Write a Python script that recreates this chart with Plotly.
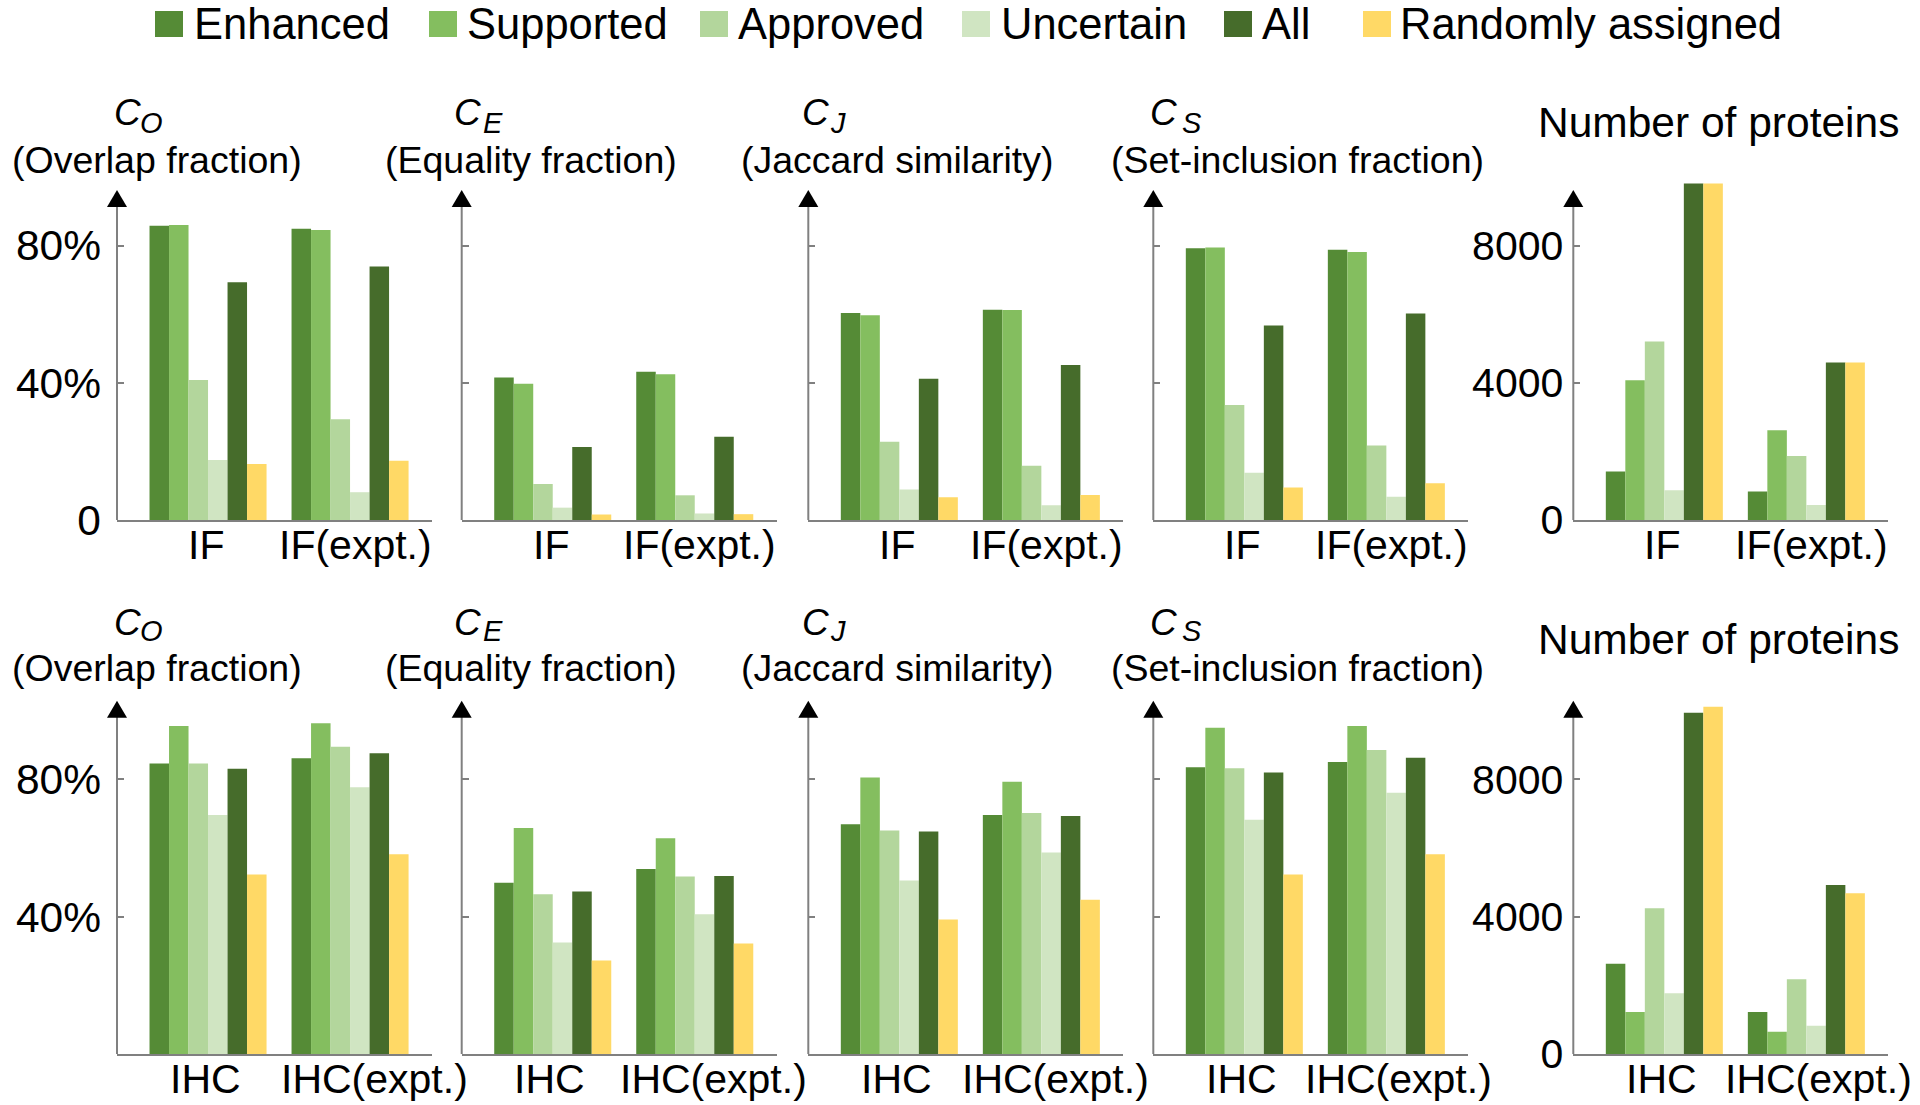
import plotly.graph_objects as go

W, H = 1920, 1105

series_names = ["Enhanced", "Supported", "Approved", "Uncertain", "All", "Randomly assigned"]
series_colors = ["#558B36", "#84BE5F", "#B3D69C", "#D0E5C2", "#466C2B", "#FFD966"]

cats_if = ["IF", "IF(expt.)"]
cats_ihc = ["IHC", "IHC(expt.)"]

# rows follow series_names, columns follow the categories
co_if = [[85.8, 84.9], [86.0, 84.5], [40.8, 29.4], [17.5, 8.1], [69.3, 73.9], [16.3, 17.3]]
ce_if = [[41.5, 43.2], [39.7, 42.5], [10.5, 7.2], [3.6, 1.9], [21.3, 24.3], [1.6, 1.7]]
cj_if = [[60.3, 61.3], [59.7, 61.2], [22.8, 15.8], [8.9, 4.3], [41.2, 45.2], [6.6, 7.3]]
cs_if = [[79.2, 78.8], [79.4, 78.1], [33.5, 21.7], [13.8, 6.8], [56.7, 60.2], [9.5, 10.7]]
n_if = [[1413, 829], [4078, 2619], [5209, 1869], [867, 438], [9822, 4596], [9822, 4596]]

co_ihc = [[84.6, 86.1], [95.5, 96.3], [84.6, 89.5], [69.6, 77.7], [83.1, 87.6], [52.3, 58.2]]
ce_ihc = [[49.9, 53.9], [65.8, 62.8], [46.5, 51.7], [32.5, 40.7], [47.3, 51.8], [27.2, 32.2]]
cj_ihc = [[66.9, 69.6], [80.5, 79.3], [65.1, 70.2], [50.5, 58.7], [64.8, 69.3], [39.2, 44.9]]
cs_ihc = [[83.5, 85.0], [95.0, 95.5], [83.2, 88.5], [68.2, 76.1], [82.0, 86.3], [52.3, 58.2]]
n_ihc = [[2631, 1224], [1224, 650], [4245, 2176], [1768, 825], [9943, 4924], [10118, 4682]]

metric_letters = ["O", "E", "J", "S"]
metric_names = ["(Overlap fraction)", "(Equality fraction)", "(Jaccard similarity)", "(Set-inclusion fraction)"]
count_title = "Number of proteins"

pct_ticks_top = [0, 40, 80]
pct_text_top = ["0", "40%", "80%"]
pct_ticks_bottom = [40, 80]
pct_text_bottom = ["40%", "80%"]
num_ticks = [0, 4000, 8000]
num_text = ["0", "4000", "8000"]

panels = [
    (co_if, cats_if, "pct"), (ce_if, cats_if, "pct"), (cj_if, cats_if, "pct"),
    (cs_if, cats_if, "pct"), (n_if, cats_if, "num"),
    (co_ihc, cats_ihc, "pct"), (ce_ihc, cats_ihc, "pct"), (cj_ihc, cats_ihc, "pct"),
    (cs_ihc, cats_ihc, "pct"), (n_ihc, cats_ihc, "num"),
]

# ---- layout geometry (pixels) ----
FONT = "Liberation Sans, Arial, sans-serif"
GRAY = "#808080"
AXIS_X = [117, 461.7, 808.3, 1153.3, 1573.3]
AXIS_LEN = 315
ROW_ZERO = [520, 1054]
ROW_TOP = [180, 690]
Y_RANGE = {(0, "pct"): 99.1, (0, "num"): 9927, (1, "pct"): 106.0, (1, "num"): 10604}
AXIS_TOP = {(0, "pct"): 91.5, (0, "num"): 9168, (1, "pct"): 98.2, (1, "num"): 9827}
X_RANGE = [-0.641, 1.577]
LABEL_SHIFT = [[[-2, 5]] * 5, [[-3, 24], [-3, 19], [-3, 14], [-3, 12.5], [-3, 12]]]

fig = go.Figure()
annotations = []
shapes = []
layout_axes = {}

for i, (vals, cats, kind) in enumerate(panels):
    r, c = divmod(i, 5)
    n = i + 1
    xa = "x" if n == 1 else f"x{n}"
    ya = "y" if n == 1 else f"y{n}"
    for s in range(6):
        fig.add_trace(go.Bar(
            x=cats, y=vals[s], name=series_names[s],
            marker=dict(color=series_colors[s], line=dict(width=0)),
            xaxis=xa, yaxis=ya, showlegend=False,
        ))
    x0 = AXIS_X[c]
    xdom = [x0 / W, (x0 + AXIS_LEN) / W]
    ydom = [1 - ROW_ZERO[r] / H, 1 - ROW_TOP[r] / H]
    if kind == "num":
        tv, tt, show, standoff, fs = num_ticks, num_text, True, 9, 41
    elif r == 0:
        tv, tt, show, standoff, fs = pct_ticks_top, pct_text_top, c == 0, 15, 42.5
    else:
        tv, tt, show, standoff, fs = pct_ticks_bottom, pct_text_bottom, c == 0, 15, 42.5
    layout_axes["xaxis" + ("" if n == 1 else str(n))] = dict(
        domain=xdom, anchor=ya, range=X_RANGE, type="category", automargin=False,
        showline=True, linecolor=GRAY, linewidth=2, ticks="",
        showticklabels=False, showgrid=False, zeroline=False,
    )
    layout_axes["yaxis" + ("" if n == 1 else str(n))] = dict(
        domain=ydom, anchor=xa, range=[0, Y_RANGE[(r, kind)]], automargin=False,
        showline=False, showgrid=False, zeroline=False,
        ticks="inside", ticklen=7, tickwidth=2, tickcolor=GRAY,
        tickvals=tv, ticktext=tt, showticklabels=show,
        ticklabelstandoff=standoff,
        tickfont=dict(family=FONT, size=fs, color="#000000"),
    )
    top = AXIS_TOP[(r, kind)]
    shapes.append(dict(type="line", xref="paper", yref=ya, x0=xdom[0], x1=xdom[0],
                       y0=0, y1=top, line=dict(color=GRAY, width=2), layer="above"))
    shapes.append(dict(type="path", xref="paper", yref=ya, xsizemode="pixel", ysizemode="pixel",
                       xanchor=xdom[0], yanchor=top, path="M-10,-1 L10,-1 L0,16 Z",
                       fillcolor="#000000", line=dict(width=0), layer="above"))
    # category labels
    for j, cat in enumerate(cats):
        annotations.append(dict(x=cat, y=0, xref=xa, yref=ya, text=cat, showarrow=False,
                                yanchor="middle", xanchor="center", yshift=-25,
                                xshift=LABEL_SHIFT[r][c][j],
                                font=dict(family=FONT, size=41, color="#000000")))

# ---- panel titles ----
C_CENTER = [113, 622]
SUB_CENTER = [123, 631]
PAREN_CENTER = [160, 668]
COUNT_CENTER = [122, 639]
PAREN_LEFT = [9.8, 383, 739, 1109]
C_LEFT = [112, 452, 800, 1148]
SUB_LEFT = [138, 481, 828, 1180]
for r in range(2):
    for c in range(4):
        annotations.append(dict(x=C_LEFT[c] / W, y=1 - C_CENTER[r] / H, xref="paper", yref="paper",
                                text="<i>C</i>", showarrow=False, xanchor="left", yanchor="middle",
                                font=dict(family=FONT, size=37, color="#000000")))
        annotations.append(dict(x=SUB_LEFT[c] / W, y=1 - SUB_CENTER[r] / H, xref="paper", yref="paper",
                                text="<i>" + metric_letters[c] + "</i>", showarrow=False,
                                xanchor="left", yanchor="middle",
                                font=dict(family=FONT, size=29, color="#000000")))
        annotations.append(dict(x=PAREN_LEFT[c] / W, y=1 - PAREN_CENTER[r] / H, xref="paper", yref="paper",
                                text=metric_names[c], showarrow=False, xanchor="left", yanchor="middle",
                                font=dict(family=FONT, size=37.5, color="#000000")))
    annotations.append(dict(x=1535.5 / W, y=1 - COUNT_CENTER[r] / H, xref="paper", yref="paper",
                            text=count_title, showarrow=False, xanchor="left", yanchor="middle",
                            font=dict(family=FONT, size=42.5, color="#000000")))

# ---- legend (drawn) ----
LEG_SQ = [155, 429, 700, 962, 1224, 1363]
LEG_TX = [192, 465, 736, 999, 1260, 1398]
LEG_Y = 24
for k in range(6):
    shapes.append(dict(type="rect", xref="paper", yref="paper",
                       x0=LEG_SQ[k] / W, x1=(LEG_SQ[k] + 28) / W,
                       y0=1 - (LEG_Y + 13) / H, y1=1 - (LEG_Y - 13) / H,
                       fillcolor=series_colors[k], line=dict(width=0)))
    annotations.append(dict(x=LEG_TX[k] / W, y=1 - LEG_Y / H, xref="paper", yref="paper",
                            text=series_names[k], showarrow=False, xanchor="left", yanchor="middle",
                            font=dict(family=FONT, size=43.5, color="#000000")))

fig.update_layout(
    template="none",
    width=W, height=H, autosize=False, margin=dict(l=0, r=0, t=0, b=0, pad=0),
    paper_bgcolor="white", plot_bgcolor="white",
    barmode="group", bargap=0.176, bargroupgap=0,
    showlegend=False, annotations=annotations, shapes=shapes,
    font=dict(family=FONT, color="#000000"),
    **layout_axes,
)

fig.write_html("out.html",
               config={"displayModeBar": False, "responsive": False},
               post_script="document.body.style.margin='0';document.body.style.overflow='hidden';")
